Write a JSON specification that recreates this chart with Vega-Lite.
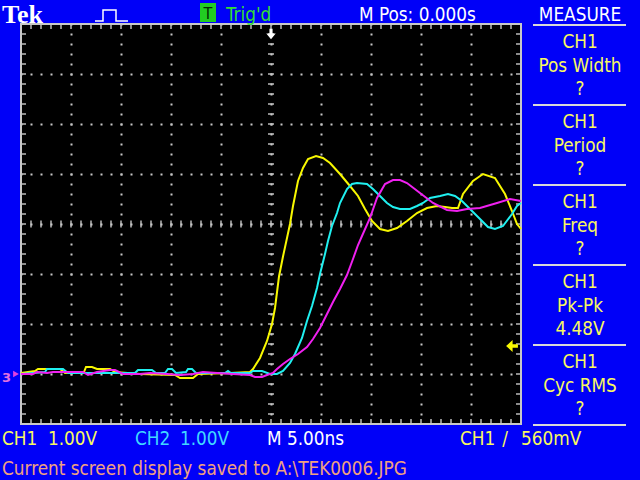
{
  "$schema": "https://vega.github.io/schema/vega-lite/v6.json",
  "width": 500,
  "height": 400,
  "autosize": {"type": "none"},
  "padding": {"left": 21, "top": 24, "right": 119, "bottom": 56},
  "background": "#0000F8",
  "config": {
    "view": {"fill": "#000000", "stroke": "#C8C8C8", "strokeWidth": 2},
    "axis": {"labels": false, "ticks": false, "domain": false, "title": null, "grid": true, "gridColor": "#C8C8C8", "gridWidth": 2, "gridDash": [2, 8], "gridDashOffset": 1}
  },
  "datasets": {
    "one": [{}],
    "xt": [{"t":-25},{"t":-24},{"t":-23},{"t":-22},{"t":-21},{"t":-20},{"t":-19},{"t":-18},{"t":-17},{"t":-16},{"t":-15},{"t":-14},{"t":-13},{"t":-12},{"t":-11},{"t":-10},{"t":-9},{"t":-8},{"t":-7},{"t":-6},{"t":-5},{"t":-4},{"t":-3},{"t":-2},{"t":-1},{"t":0},{"t":1},{"t":2},{"t":3},{"t":4},{"t":5},{"t":6},{"t":7},{"t":8},{"t":9},{"t":10},{"t":11},{"t":12},{"t":13},{"t":14},{"t":15},{"t":16},{"t":17},{"t":18},{"t":19},{"t":20},{"t":21},{"t":22},{"t":23},{"t":24},{"t":25}],
    "yt": [{"v":-1},{"v":-0.8},{"v":-0.6},{"v":-0.4},{"v":-0.2},{"v":0},{"v":0.2},{"v":0.4},{"v":0.6},{"v":0.8},{"v":1},{"v":1.2},{"v":1.4},{"v":1.6},{"v":1.8},{"v":2},{"v":2.2},{"v":2.4},{"v":2.6},{"v":2.8},{"v":3},{"v":3.2},{"v":3.4},{"v":3.6},{"v":3.8},{"v":4},{"v":4.2},{"v":4.4},{"v":4.6},{"v":4.8},{"v":5},{"v":5.2},{"v":5.4},{"v":5.6},{"v":5.8},{"v":6},{"v":6.2},{"v":6.4},{"v":6.6},{"v":6.8},{"v":7}],
    "pulse": [{"i":0,"t":-17.6,"v":7.06},{"i":1,"t":-16.8,"v":7.06},{"i":2,"t":-16.8,"v":7.28},{"i":3,"t":-15.5,"v":7.28},{"i":4,"t":-15.5,"v":7.06},{"i":5,"t":-14.3,"v":7.06}],
    "traces": [
      {"ch":"CH1","t":-25.0,"v":0.02},{"ch":"CH1","t":-23.6,"v":0.06},{"ch":"CH1","t":-23.3,"v":0.10},{"ch":"CH1","t":-21.1,"v":0.10},{"ch":"CH1","t":-20.6,"v":0.02},{"ch":"CH1","t":-18.7,"v":0.04},{"ch":"CH1","t":-18.5,"v":0.14},{"ch":"CH1","t":-17.9,"v":0.14},{"ch":"CH1","t":-17.4,"v":0.10},{"ch":"CH1","t":-16.1,"v":0.10},{"ch":"CH1","t":-15.6,"v":0.04},{"ch":"CH1","t":-13.1,"v":0.00},{"ch":"CH1","t":-9.6,"v":-0.02},{"ch":"CH1","t":-9.1,"v":-0.08},{"ch":"CH1","t":-7.8,"v":-0.08},{"ch":"CH1","t":-7.3,"v":0.00},{"ch":"CH1","t":-4.1,"v":0.02},{"ch":"CH1","t":-2.1,"v":0.04},{"ch":"CH1","t":-1.8,"v":0.10},{"ch":"CH1","t":-1.1,"v":0.32},{"ch":"CH1","t":-0.4,"v":0.66},{"ch":"CH1","t":0.1,"v":1.00},{"ch":"CH1","t":0.4,"v":1.32},{"ch":"CH1","t":0.8,"v":1.95},{"ch":"CH1","t":1.2,"v":2.35},{"ch":"CH1","t":1.6,"v":2.72},{"ch":"CH1","t":1.9,"v":3.0},{"ch":"CH1","t":2.2,"v":3.36},{"ch":"CH1","t":2.7,"v":3.86},{"ch":"CH1","t":3.2,"v":4.12},{"ch":"CH1","t":3.7,"v":4.30},{"ch":"CH1","t":4.5,"v":4.36},{"ch":"CH1","t":5.2,"v":4.32},{"ch":"CH1","t":5.9,"v":4.22},{"ch":"CH1","t":6.9,"v":4.00},{"ch":"CH1","t":7.9,"v":3.76},{"ch":"CH1","t":8.7,"v":3.56},{"ch":"CH1","t":9.4,"v":3.30},{"ch":"CH1","t":10.1,"v":3.06},{"ch":"CH1","t":10.9,"v":2.90},{"ch":"CH1","t":11.7,"v":2.86},{"ch":"CH1","t":12.6,"v":2.92},{"ch":"CH1","t":13.6,"v":3.06},{"ch":"CH1","t":14.6,"v":3.22},{"ch":"CH1","t":15.6,"v":3.32},{"ch":"CH1","t":16.6,"v":3.36},{"ch":"CH1","t":17.4,"v":3.34},{"ch":"CH1","t":18.1,"v":3.32},{"ch":"CH1","t":18.7,"v":3.32},{"ch":"CH1","t":19.2,"v":3.60},{"ch":"CH1","t":20.2,"v":3.86},{"ch":"CH1","t":21.2,"v":4.00},{"ch":"CH1","t":22.4,"v":3.92},{"ch":"CH1","t":23.4,"v":3.60},{"ch":"CH1","t":24.1,"v":3.26},{"ch":"CH1","t":24.6,"v":3.00},{"ch":"CH1","t":25.0,"v":2.90},
      {"ch":"CH2","t":-25.0,"v":0.00},{"ch":"CH2","t":-22.6,"v":0.04},{"ch":"CH2","t":-22.4,"v":0.10},{"ch":"CH2","t":-20.8,"v":0.10},{"ch":"CH2","t":-20.3,"v":0.02},{"ch":"CH2","t":-13.6,"v":0.02},{"ch":"CH2","t":-13.3,"v":0.08},{"ch":"CH2","t":-11.9,"v":0.08},{"ch":"CH2","t":-11.5,"v":0.02},{"ch":"CH2","t":-10.6,"v":0.02},{"ch":"CH2","t":-10.3,"v":0.10},{"ch":"CH2","t":-9.9,"v":0.10},{"ch":"CH2","t":-9.5,"v":0.02},{"ch":"CH2","t":-8.5,"v":0.04},{"ch":"CH2","t":-8.3,"v":0.10},{"ch":"CH2","t":-7.9,"v":0.10},{"ch":"CH2","t":-7.5,"v":0.02},{"ch":"CH2","t":-4.6,"v":0.02},{"ch":"CH2","t":-4.3,"v":0.06},{"ch":"CH2","t":-4.0,"v":0.02},{"ch":"CH2","t":-2.1,"v":0.02},{"ch":"CH2","t":-1.8,"v":0.06},{"ch":"CH2","t":-0.9,"v":0.06},{"ch":"CH2","t":-0.1,"v":0.00},{"ch":"CH2","t":0.6,"v":0.00},{"ch":"CH2","t":1.2,"v":0.06},{"ch":"CH2","t":1.9,"v":0.22},{"ch":"CH2","t":2.4,"v":0.40},{"ch":"CH2","t":3.1,"v":0.72},{"ch":"CH2","t":3.6,"v":1.06},{"ch":"CH2","t":4.1,"v":1.36},{"ch":"CH2","t":4.6,"v":1.72},{"ch":"CH2","t":4.9,"v":2.00},{"ch":"CH2","t":5.4,"v":2.40},{"ch":"CH2","t":5.7,"v":2.66},{"ch":"CH2","t":6.1,"v":2.96},{"ch":"CH2","t":6.6,"v":3.22},{"ch":"CH2","t":6.9,"v":3.42},{"ch":"CH2","t":7.6,"v":3.70},{"ch":"CH2","t":8.1,"v":3.80},{"ch":"CH2","t":8.6,"v":3.82},{"ch":"CH2","t":9.6,"v":3.80},{"ch":"CH2","t":10.2,"v":3.70},{"ch":"CH2","t":10.9,"v":3.56},{"ch":"CH2","t":11.6,"v":3.42},{"ch":"CH2","t":12.2,"v":3.34},{"ch":"CH2","t":12.9,"v":3.30},{"ch":"CH2","t":13.9,"v":3.30},{"ch":"CH2","t":14.6,"v":3.36},{"ch":"CH2","t":15.2,"v":3.42},{"ch":"CH2","t":15.9,"v":3.52},{"ch":"CH2","t":16.9,"v":3.56},{"ch":"CH2","t":17.7,"v":3.60},{"ch":"CH2","t":18.4,"v":3.56},{"ch":"CH2","t":19.1,"v":3.46},{"ch":"CH2","t":19.9,"v":3.30},{"ch":"CH2","t":20.9,"v":3.10},{"ch":"CH2","t":21.7,"v":2.94},{"ch":"CH2","t":22.4,"v":2.90},{"ch":"CH2","t":23.2,"v":2.96},{"ch":"CH2","t":24.1,"v":3.20},{"ch":"CH2","t":24.6,"v":3.36},{"ch":"CH2","t":25.0,"v":3.42},
      {"ch":"CH3","t":-25.0,"v":0.00},{"ch":"CH3","t":-23.8,"v":0.00},{"ch":"CH3","t":-23.4,"v":0.04},{"ch":"CH3","t":-22.4,"v":0.02},{"ch":"CH3","t":-21.8,"v":0.04},{"ch":"CH3","t":-18.8,"v":0.04},{"ch":"CH3","t":-18.3,"v":-0.02},{"ch":"CH3","t":-17.4,"v":0.04},{"ch":"CH3","t":-16.1,"v":0.08},{"ch":"CH3","t":-15.6,"v":0.08},{"ch":"CH3","t":-14.8,"v":0.00},{"ch":"CH3","t":-13.1,"v":0.00},{"ch":"CH3","t":-12.1,"v":0.02},{"ch":"CH3","t":-10.4,"v":0.00},{"ch":"CH3","t":-9.1,"v":-0.02},{"ch":"CH3","t":-7.8,"v":0.00},{"ch":"CH3","t":-6.8,"v":0.04},{"ch":"CH3","t":-5.4,"v":0.02},{"ch":"CH3","t":-3.8,"v":0.00},{"ch":"CH3","t":-2.1,"v":-0.02},{"ch":"CH3","t":-1.6,"v":-0.06},{"ch":"CH3","t":-0.9,"v":-0.06},{"ch":"CH3","t":-0.4,"v":-0.02},{"ch":"CH3","t":0.2,"v":0.02},{"ch":"CH3","t":0.6,"v":0.10},{"ch":"CH3","t":1.2,"v":0.20},{"ch":"CH3","t":1.9,"v":0.30},{"ch":"CH3","t":2.7,"v":0.40},{"ch":"CH3","t":3.6,"v":0.54},{"ch":"CH3","t":4.2,"v":0.70},{"ch":"CH3","t":4.9,"v":0.92},{"ch":"CH3","t":5.6,"v":1.20},{"ch":"CH3","t":6.2,"v":1.44},{"ch":"CH3","t":6.9,"v":1.70},{"ch":"CH3","t":7.6,"v":1.98},{"ch":"CH3","t":8.2,"v":2.30},{"ch":"CH3","t":8.7,"v":2.58},{"ch":"CH3","t":9.1,"v":2.76},{"ch":"CH3","t":9.9,"v":3.12},{"ch":"CH3","t":10.6,"v":3.52},{"ch":"CH3","t":11.4,"v":3.80},{"ch":"CH3","t":12.2,"v":3.88},{"ch":"CH3","t":12.9,"v":3.88},{"ch":"CH3","t":13.6,"v":3.82},{"ch":"CH3","t":14.9,"v":3.62},{"ch":"CH3","t":16.2,"v":3.42},{"ch":"CH3","t":17.6,"v":3.28},{"ch":"CH3","t":18.6,"v":3.26},{"ch":"CH3","t":19.6,"v":3.30},{"ch":"CH3","t":20.9,"v":3.32},{"ch":"CH3","t":22.6,"v":3.42},{"ch":"CH3","t":23.9,"v":3.50},{"ch":"CH3","t":25.0,"v":3.46}
    ]
  },
  "layer": [
    {
      "data": {"name": "xt"},
      "mark": {"type": "tick", "orient": "vertical", "size": 7, "thickness": 2, "color": "#C8C8C8"},
      "encoding": {
        "x": {"field": "t", "type": "quantitative", "scale": {"domain": [-25, 25], "nice": false, "zero": false}, "axis": {"values": [-20, -15, -10, -5, 0, 5, 10, 15, 20]}},
        "y": {"datum": 3, "type": "quantitative", "scale": {"domain": [-1, 7], "nice": false, "zero": false}, "axis": {"values": [0, 1, 2, 3, 4, 5, 6]}}
      }
    },
    {
      "data": {"name": "xt"},
      "mark": {"type": "tick", "orient": "vertical", "size": 10, "thickness": 2, "color": "#C8C8C8", "clip": true},
      "encoding": {"x": {"field": "t", "type": "quantitative"}, "y": {"datum": 7, "type": "quantitative"}}
    },
    {
      "data": {"name": "xt"},
      "mark": {"type": "tick", "orient": "vertical", "size": 10, "thickness": 2, "color": "#C8C8C8", "clip": true},
      "encoding": {"x": {"field": "t", "type": "quantitative"}, "y": {"datum": -1, "type": "quantitative"}}
    },
    {
      "data": {"name": "yt"},
      "mark": {"type": "tick", "orient": "horizontal", "size": 6, "thickness": 2, "color": "#C8C8C8"},
      "encoding": {"y": {"field": "v", "type": "quantitative"}, "x": {"datum": 0, "type": "quantitative"}}
    },
    {
      "data": {"name": "yt"},
      "mark": {"type": "tick", "orient": "horizontal", "size": 10, "thickness": 2, "color": "#C8C8C8", "clip": true},
      "encoding": {"y": {"field": "v", "type": "quantitative"}, "x": {"datum": -25, "type": "quantitative"}}
    },
    {
      "data": {"name": "yt"},
      "mark": {"type": "tick", "orient": "horizontal", "size": 10, "thickness": 2, "color": "#C8C8C8", "clip": true},
      "encoding": {"y": {"field": "v", "type": "quantitative"}, "x": {"datum": 25, "type": "quantitative"}}
    },
    {
      "data": {"name": "traces"},
      "mark": {"type": "line", "strokeWidth": 2, "interpolate": "linear"},
      "encoding": {
        "x": {"field": "t", "type": "quantitative"},
        "y": {"field": "v", "type": "quantitative"},
        "color": {"field": "ch", "type": "nominal", "scale": {"domain": ["CH1", "CH2", "CH3"], "range": ["#F8F800", "#20F0F0", "#F020F0"]}, "legend": null}
      }
    },
    {
      "data": {"name": "pulse"},
      "mark": {"type": "line", "strokeWidth": 1.5, "color": "#FFFFFF"},
      "encoding": {"x": {"field": "t", "type": "quantitative"}, "y": {"field": "v", "type": "quantitative"}, "order": {"field": "i", "type": "quantitative"}}
    },
    {
      "data": {"name": "one"},
      "mark": {"type": "point", "shape": "M -0.3 -1 L 0.3 -1 L 0.3 -0.1 L 0.9 -0.1 L 0 1 L -0.9 -0.1 L -0.3 -0.1 Z", "size": 110, "filled": true, "color": "#FFFFFF", "opacity": 1},
      "encoding": {"x": {"datum": 0, "type": "quantitative"}, "y": {"datum": 6.8, "type": "quantitative"}}
    },
    {
      "data": {"name": "one"},
      "mark": {"type": "point", "shape": "M -1 0 L 0.1 -1 L 0.1 -0.3 L 1 -0.3 L 1 0.3 L 0.1 0.3 L 0.1 1 Z", "size": 140, "filled": true, "color": "#F8F800", "opacity": 1},
      "encoding": {"x": {"datum": 24.1, "type": "quantitative"}, "y": {"datum": 0.56, "type": "quantitative"}}
    },
    {
      "data": {"name": "one"},
      "mark": {"type": "point", "shape": "triangle-right", "size": 45, "filled": true, "color": "#E040E0", "opacity": 1},
      "encoding": {"x": {"datum": -25.5, "type": "quantitative"}, "y": {"datum": 0, "type": "quantitative"}}
    },
    {
      "data": {"name": "one"},
      "mark": {"type": "text", "text": "3", "align": "left", "baseline": "alphabetic", "font": "DejaVu Sans", "fontWeight": "bold", "fontSize": 13, "color": "#E070E0"},
      "encoding": {"x": {"datum": -26.9, "type": "quantitative"}, "y": {"datum": -0.16, "type": "quantitative"}}
    },
    {
      "data": {"name": "one"},
      "mark": {"type": "rect", "color": "#22CC22", "opacity": 1},
      "encoding": {"x": {"datum": -7.1, "type": "quantitative"}, "x2": {"datum": -5.5}, "y": {"datum": 7.42, "type": "quantitative"}, "y2": {"datum": 7.04}}
    },
    {
      "data": {"name": "one"},
      "mark": {"type": "text", "text": "T", "align": "center", "baseline": "alphabetic", "font": "DejaVu Sans Condensed, DejaVu Sans, sans-serif", "fontSize": 16, "color": "#002800"},
      "encoding": {"x": {"datum": -6.3, "type": "quantitative"}, "y": {"datum": 7.1, "type": "quantitative"}}
    },
    {
      "data": {"name": "one"},
      "mark": {"type": "text", "text": "Tek", "align": "left", "baseline": "alphabetic", "font": "Liberation Serif", "fontWeight": "bold", "fontSize": 26, "color": "#FFFFFF"},
      "encoding": {"x": {"datum": -26.9, "type": "quantitative"}, "y": {"datum": 7.02, "type": "quantitative"}}
    },
    {
      "data": {"name": "one"},
      "mark": {"type": "text", "text": "Trig'd", "align": "left", "baseline": "alphabetic", "font": "DejaVu Sans Condensed, DejaVu Sans, sans-serif", "fontSize": 18.8, "color": "#33DD33"},
      "encoding": {"x": {"datum": -4.5, "type": "quantitative"}, "y": {"datum": 7.07, "type": "quantitative"}}
    },
    {
      "data": {"name": "one"},
      "mark": {"type": "text", "text": "M Pos: 0.000s", "align": "left", "baseline": "alphabetic", "font": "DejaVu Sans Condensed, DejaVu Sans, sans-serif", "fontSize": 18.8, "color": "#FFFFFF"},
      "encoding": {"x": {"datum": 8.8, "type": "quantitative"}, "y": {"datum": 7.07, "type": "quantitative"}}
    },
    {
      "data": {"name": "one"},
      "mark": {"type": "text", "text": "MEASURE", "align": "center", "baseline": "alphabetic", "font": "DejaVu Sans Condensed, DejaVu Sans, sans-serif", "fontSize": 18.8, "color": "#FFFFFF"},
      "encoding": {"x": {"datum": 30.9, "type": "quantitative"}, "y": {"datum": 7.07, "type": "quantitative"}}
    },
    {
      "data": {"name": "one"},
      "mark": {"type": "rule", "color": "#D8D8D8", "strokeWidth": 2},
      "encoding": {"x": {"datum": 26.2, "type": "quantitative"}, "x2": {"datum": 35.5}, "y": {"datum": 6.98, "type": "quantitative"}}
    },
    {
      "data": {"name": "one"},
      "mark": {"type": "rule", "color": "#D8D8D8", "strokeWidth": 2},
      "encoding": {"x": {"datum": 26.2, "type": "quantitative"}, "x2": {"datum": 35.5}, "y": {"datum": 5.38, "type": "quantitative"}}
    },
    {
      "data": {"name": "one"},
      "mark": {"type": "rule", "color": "#D8D8D8", "strokeWidth": 2},
      "encoding": {"x": {"datum": 26.2, "type": "quantitative"}, "x2": {"datum": 35.5}, "y": {"datum": 3.78, "type": "quantitative"}}
    },
    {
      "data": {"name": "one"},
      "mark": {"type": "rule", "color": "#D8D8D8", "strokeWidth": 2},
      "encoding": {"x": {"datum": 26.2, "type": "quantitative"}, "x2": {"datum": 35.5}, "y": {"datum": 2.18, "type": "quantitative"}}
    },
    {
      "data": {"name": "one"},
      "mark": {"type": "rule", "color": "#D8D8D8", "strokeWidth": 2},
      "encoding": {"x": {"datum": 26.2, "type": "quantitative"}, "x2": {"datum": 35.5}, "y": {"datum": 0.58, "type": "quantitative"}}
    },
    {
      "data": {"name": "one"},
      "mark": {"type": "rule", "color": "#D8D8D8", "strokeWidth": 2},
      "encoding": {"x": {"datum": 26.2, "type": "quantitative"}, "x2": {"datum": 35.5}, "y": {"datum": -1.02, "type": "quantitative"}}
    },
    {
      "data": {"name": "one"},
      "mark": {"type": "text", "text": ["CH1", "Pos Width", "?"], "lineHeight": 23.5, "align": "center", "baseline": "alphabetic", "font": "DejaVu Sans Condensed, DejaVu Sans, sans-serif", "fontSize": 18.8, "color": "#F8F860"},
      "encoding": {"x": {"datum": 30.9, "type": "quantitative"}, "y": {"datum": 6.52, "type": "quantitative"}}
    },
    {
      "data": {"name": "one"},
      "mark": {"type": "text", "text": ["CH1", "Period", "?"], "lineHeight": 23.5, "align": "center", "baseline": "alphabetic", "font": "DejaVu Sans Condensed, DejaVu Sans, sans-serif", "fontSize": 18.8, "color": "#F8F860"},
      "encoding": {"x": {"datum": 30.9, "type": "quantitative"}, "y": {"datum": 4.92, "type": "quantitative"}}
    },
    {
      "data": {"name": "one"},
      "mark": {"type": "text", "text": ["CH1", "Freq", "?"], "lineHeight": 23.5, "align": "center", "baseline": "alphabetic", "font": "DejaVu Sans Condensed, DejaVu Sans, sans-serif", "fontSize": 18.8, "color": "#F8F860"},
      "encoding": {"x": {"datum": 30.9, "type": "quantitative"}, "y": {"datum": 3.32, "type": "quantitative"}}
    },
    {
      "data": {"name": "one"},
      "mark": {"type": "text", "text": ["CH1", "Pk-Pk", "4.48V"], "lineHeight": 23.5, "align": "center", "baseline": "alphabetic", "font": "DejaVu Sans Condensed, DejaVu Sans, sans-serif", "fontSize": 18.8, "color": "#F8F860"},
      "encoding": {"x": {"datum": 30.9, "type": "quantitative"}, "y": {"datum": 1.72, "type": "quantitative"}}
    },
    {
      "data": {"name": "one"},
      "mark": {"type": "text", "text": ["CH1", "Cyc RMS", "?"], "lineHeight": 23.5, "align": "center", "baseline": "alphabetic", "font": "DejaVu Sans Condensed, DejaVu Sans, sans-serif", "fontSize": 18.8, "color": "#F8F860"},
      "encoding": {"x": {"datum": 30.9, "type": "quantitative"}, "y": {"datum": 0.12, "type": "quantitative"}}
    },
    {
      "data": {"name": "one"},
      "mark": {"type": "text", "text": "CH1", "align": "left", "baseline": "alphabetic", "font": "DejaVu Sans Condensed, DejaVu Sans, sans-serif", "fontSize": 18.8, "color": "#F8F860"},
      "encoding": {"x": {"datum": -26.9, "type": "quantitative"}, "y": {"datum": -1.42, "type": "quantitative"}}
    },
    {
      "data": {"name": "one"},
      "mark": {"type": "text", "text": "1.00V", "align": "left", "baseline": "alphabetic", "font": "DejaVu Sans Condensed, DejaVu Sans, sans-serif", "fontSize": 18.8, "color": "#F8F860"},
      "encoding": {"x": {"datum": -22.3, "type": "quantitative"}, "y": {"datum": -1.42, "type": "quantitative"}}
    },
    {
      "data": {"name": "one"},
      "mark": {"type": "text", "text": "CH2", "align": "left", "baseline": "alphabetic", "font": "DejaVu Sans Condensed, DejaVu Sans, sans-serif", "fontSize": 18.8, "color": "#40D8FF"},
      "encoding": {"x": {"datum": -13.6, "type": "quantitative"}, "y": {"datum": -1.42, "type": "quantitative"}}
    },
    {
      "data": {"name": "one"},
      "mark": {"type": "text", "text": "1.00V", "align": "left", "baseline": "alphabetic", "font": "DejaVu Sans Condensed, DejaVu Sans, sans-serif", "fontSize": 18.8, "color": "#40D8FF"},
      "encoding": {"x": {"datum": -9.1, "type": "quantitative"}, "y": {"datum": -1.42, "type": "quantitative"}}
    },
    {
      "data": {"name": "one"},
      "mark": {"type": "text", "text": "M 5.00ns", "align": "left", "baseline": "alphabetic", "font": "DejaVu Sans Condensed, DejaVu Sans, sans-serif", "fontSize": 18.8, "color": "#FFFFFF"},
      "encoding": {"x": {"datum": -0.4, "type": "quantitative"}, "y": {"datum": -1.42, "type": "quantitative"}}
    },
    {
      "data": {"name": "one"},
      "mark": {"type": "text", "text": "CH1", "align": "left", "baseline": "alphabetic", "font": "DejaVu Sans Condensed, DejaVu Sans, sans-serif", "fontSize": 18.8, "color": "#F8F860"},
      "encoding": {"x": {"datum": 18.9, "type": "quantitative"}, "y": {"datum": -1.42, "type": "quantitative"}}
    },
    {
      "data": {"name": "one"},
      "mark": {"type": "text", "text": "/", "align": "center", "baseline": "alphabetic", "font": "DejaVu Sans Condensed, DejaVu Sans, sans-serif", "fontSize": 18.8, "color": "#F8F860"},
      "encoding": {"x": {"datum": 23.4, "type": "quantitative"}, "y": {"datum": -1.42, "type": "quantitative"}}
    },
    {
      "data": {"name": "one"},
      "mark": {"type": "text", "text": "560mV", "align": "left", "baseline": "alphabetic", "font": "DejaVu Sans Condensed, DejaVu Sans, sans-serif", "fontSize": 18.8, "color": "#F8F860"},
      "encoding": {"x": {"datum": 25.0, "type": "quantitative"}, "y": {"datum": -1.42, "type": "quantitative"}}
    },
    {
      "data": {"name": "one"},
      "mark": {"type": "text", "text": "Current screen display saved to A:\\TEK0006.JPG", "align": "left", "baseline": "alphabetic", "font": "DejaVu Sans Condensed, DejaVu Sans, sans-serif", "fontSize": 18.8, "color": "#F0A080"},
      "encoding": {"x": {"datum": -26.9, "type": "quantitative"}, "y": {"datum": -2.02, "type": "quantitative"}}
    }
  ]
}
